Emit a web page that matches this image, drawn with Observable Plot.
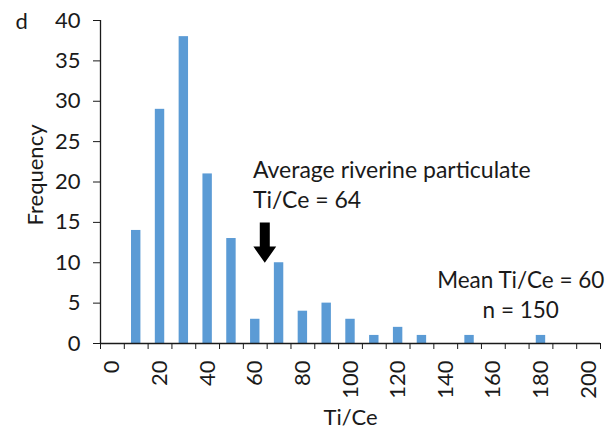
<!DOCTYPE html>
<html>
<head>
<meta charset="utf-8">
<script src="https://cdn.jsdelivr.net/npm/d3@7"></script>
<script src="https://cdn.jsdelivr.net/npm/@observablehq/plot@0.6"></script>
<style>
  html, body { margin: 0; padding: 0; background: #fff; }
  #chart svg { font-family: Lato, "Open Sans", sans-serif; }
</style>
</head>
<body>
<div id="chart"></div>
<script>
// Histogram categories (Ti/Ce bin centres) and frequencies
const bins   = [0, 10, 20, 30, 40, 50, 60, 70, 80, 90, 100, 110, 120, 130, 140, 150, 160, 170, 180, 190, 200];
const counts = [0, 14, 29, 38, 21, 13, 3, 10, 4, 5, 3, 1, 2, 1, 0, 1, 0, 0, 1, 0, 0];
const xTickLabels = [0, 20, 40, 60, 80, 100, 120, 140, 160, 180, 200];
const yTickLabels = [0, 5, 10, 15, 20, 25, 30, 35, 40];
const riverineTiCe = 64;
const meanTiCe = 60;
const nSamples = 150;

const data = bins.map((b, i) => ({bin: b, count: counts[i]}));
const halfBin = 5;
const edgeTicks = bins.map(b => b - halfBin).concat([bins[bins.length - 1] + halfBin]);

// arrow polygon around riverine value (shaft + head), in data units
const arrowTop = 15, arrowNeck = 12, arrowTip = 10, shaftHalf = 2.1, headHalf = 4.8;
const arrow = [
  [riverineTiCe - shaftHalf, arrowTop], [riverineTiCe + shaftHalf, arrowTop],
  [riverineTiCe + shaftHalf, arrowNeck], [riverineTiCe + headHalf, arrowNeck],
  [riverineTiCe, arrowTip], [riverineTiCe - headHalf, arrowNeck],
  [riverineTiCe - shaftHalf, arrowNeck], [riverineTiCe - shaftHalf, arrowTop]
];

const ink = "#1a1a1a";

const chart = Plot.plot({
  width: 610,
  height: 430,
  marginLeft: 100,
  marginRight: 10,
  marginTop: 20,
  marginBottom: 87,
  style: {fontSize: "20px", color: ink, background: "#fff"},
  x: {type: "linear", domain: [-5, 205]},
  y: {domain: [0, 40]},
  marks: [
    Plot.rectY(data, {x1: d => d.bin - halfBin, x2: d => d.bin + halfBin, y: "count",
      fill: "#5B9BD5", insetLeft: 7.2, insetRight: 7.2}),
    Plot.ruleX([edgeTicks[0]], {y1: 0, y2: 40, stroke: ink, strokeWidth: 1.3}),
    Plot.ruleY([0], {x1: -5, x2: 205, stroke: ink, strokeWidth: 1.3}),
    Plot.axisY({ticks: yTickLabels, tickSize: 7, tickPadding: 13, label: null,
      stroke: ink, fill: ink, fontSize: 22}),
    Plot.axisX({ticks: edgeTicks, tickSize: 6, tickFormat: () => "", label: null, stroke: ink}),
    Plot.axisX({ticks: xTickLabels, tickSize: 0, tickPadding: 17, tickRotate: -90,
      label: null, fill: ink, fontSize: 22}),
    Plot.text(["Frequency"], {frameAnchor: "left", dx: -65, dy: -7, rotate: -90,
      textAnchor: "middle", lineAnchor: "middle", fontSize: 22, fill: ink}),
    Plot.text(["Ti/Ce"], {frameAnchor: "bottom", dy: 74, lineAnchor: "middle", fontSize: 22, fill: ink}),
    Plot.text(["d"], {frameAnchor: "top-left", dx: -85, dy: -7, fontSize: 22, fill: ink}),
    Plot.line(arrow, {x: d => d[0], y: d => d[1], fill: "#000", stroke: "none"}),
    Plot.text(["Average riverine particulate", `Ti/Ce = ${riverineTiCe}`], {
      x: riverineTiCe - 5, y: (d, i) => [21.4, 17.7][i], textAnchor: "start", fontSize: 23, fill: ink}),
    Plot.text([`Mean Ti/Ce = ${meanTiCe}`, `n = ${nSamples}`], {
      x: 171.5, y: (d, i) => [7.8, 4.1][i], textAnchor: "middle", fontSize: 22.5, fill: ink})
  ]
});
document.getElementById("chart").appendChild(chart);
</script>
</body>
</html>
